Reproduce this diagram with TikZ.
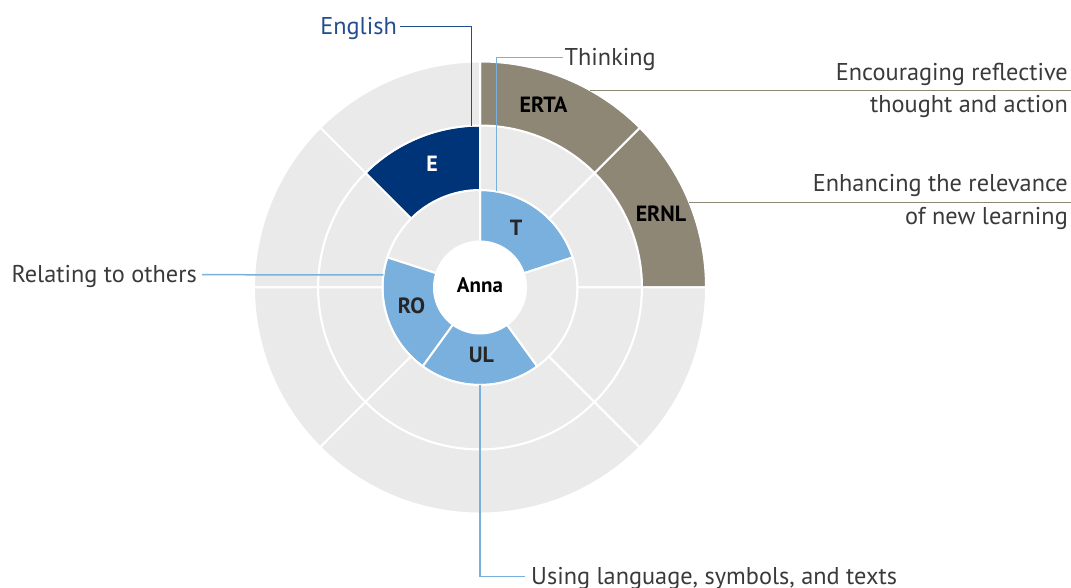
\documentclass[tikz,border=0pt]{standalone}
\usepackage{fontspec}
\setmainfont{PT Sans}
\usetikzlibrary{calc}
\definecolor{ringgray}{HTML}{EAEAEA}
\definecolor{darkblue}{HTML}{003478}
\definecolor{lightblue}{HTML}{7AB0DD}
\definecolor{taupe}{HTML}{8E8776}
\definecolor{labelgray}{HTML}{3A3A3A}
\definecolor{engblue}{HTML}{234E8E}
\newcommand\ringseg[5]{%
  \filldraw[seg, fill=#1] (#4:#2) arc[start angle=#4, end angle=#5, radius=#2]
    -- (#5:#3) arc[start angle=#5, end angle=#4, radius=#3] -- cycle;}
\begin{document}
\begin{tikzpicture}[x=1pt,y=1pt,
  seg/.style={draw=white, line width=2pt},
  lab/.style={font=\fontsize{24.3}{28}\selectfont, text=labelgray, inner sep=0pt,
    text height=16.6pt, text depth=0pt},
  seglab/.style={font=\bfseries\fontsize{22}{26}\selectfont, text=black!85, inner sep=0pt},
  conn/.style={line width=1.5pt}]
\useasboundingbox (0,0) rectangle (1071,588);
\coordinate (rightEdge) at (1071,0);
\begin{scope}[shift={(480,300.5)}]
  % inner ring
  \ringseg{lightblue}{46pt}{97.5pt}{18}{90}
  \ringseg{ringgray}{46pt}{97.5pt}{90}{162}
  \ringseg{lightblue}{46pt}{97.5pt}{162}{234}
  \ringseg{lightblue}{46pt}{97.5pt}{234}{306}
  \ringseg{ringgray}{46pt}{97.5pt}{306}{378}
  % middle ring
  \ringseg{ringgray}{97.5pt}{162pt}{0}{45}
  \ringseg{ringgray}{97.5pt}{162pt}{45}{90}
  \ringseg{darkblue}{97.5pt}{162pt}{90}{135}
  \ringseg{ringgray}{97.5pt}{162pt}{135}{180}
  \ringseg{ringgray}{97.5pt}{162pt}{180}{225}
  \ringseg{ringgray}{97.5pt}{162pt}{225}{315}
  \ringseg{ringgray}{97.5pt}{162pt}{315}{360}
  % outer ring
  \ringseg{taupe}{162pt}{226pt}{0}{45}
  \ringseg{taupe}{162pt}{226pt}{45}{90}
  \ringseg{ringgray}{162pt}{226pt}{90}{135}
  \ringseg{ringgray}{162pt}{226pt}{135}{180}
  \ringseg{ringgray}{162pt}{226pt}{180}{225}
  \ringseg{ringgray}{162pt}{226pt}{225}{315}
  \ringseg{ringgray}{162pt}{226pt}{315}{360}
  % centre
  \fill[white] (0,0) circle[radius=46pt];
  \node[font=\bfseries\fontsize{21}{24}\selectfont, text=black, inner sep=0pt] (anna) at (0,2.2) {Anna};
  \node[seglab, text=white] (E) at (-48,123.5) {E};
  \node[seglab] (T) at (36,60) {T};
  \node[seglab] (RO) at (-68.5,-18) {RO};
  \node[seglab] (UL) at (1.5,-67.5) {UL};
  \node[seglab, text=black] (ERTA) at (63.5,182.5) {ERTA};
  \node[seglab, text=black] (ERNL) at (181,73.5) {ERNL};
  % connector anchor points on the rings
  \coordinate (eTop) at (-8.3,161.3);
  \coordinate (tTop) at (80.14:97.5pt);
  \coordinate (roPt) at (172.6:97.5pt);
  \coordinate (ulBot) at (270:97.5pt);
  \coordinate (ertaPt) at (60.8:225.5pt);
  \coordinate (ernlPt) at (22.2:225.5pt);
\end{scope}
% outside labels
\node[lab, text=engblue, anchor=base east] (english) at (397,553) {English};
\node[lab, anchor=base west] (thinking) at (564.5,522) {Thinking};
\node[lab, anchor=base east] (relating) at (197,305) {Relating to others};
\node[lab, anchor=base west] (using) at (531,3) {Using language, symbols, and texts};
\node[lab, anchor=base east] (ertaA) at (1068,507) {Encouraging reflective};
\node[lab, anchor=base east] (ertaB) at (1068,475) {thought and action};
\node[lab, anchor=base east] (ernlA) at (1068,396) {Enhancing the relevance};
\node[lab, anchor=base east] (ernlB) at (1068,363) {of new learning};
% connectors
\draw[conn, engblue] ([xshift=3pt]english.east) -| (eTop);
\draw[conn, lightblue] ([xshift=-1.5pt]thinking.west) -| (tTop);
\draw[conn, lightblue] ([xshift=5pt]relating.east) -- (roPt);
\draw[conn, lightblue] (ulBot) |- ([xshift=-6pt]using.west);
\draw[conn, taupe] (ertaPt) -- (ertaPt -| rightEdge);
\draw[conn, taupe] (ernlPt) -- (ernlPt -| rightEdge);
\end{tikzpicture}
\end{document}
